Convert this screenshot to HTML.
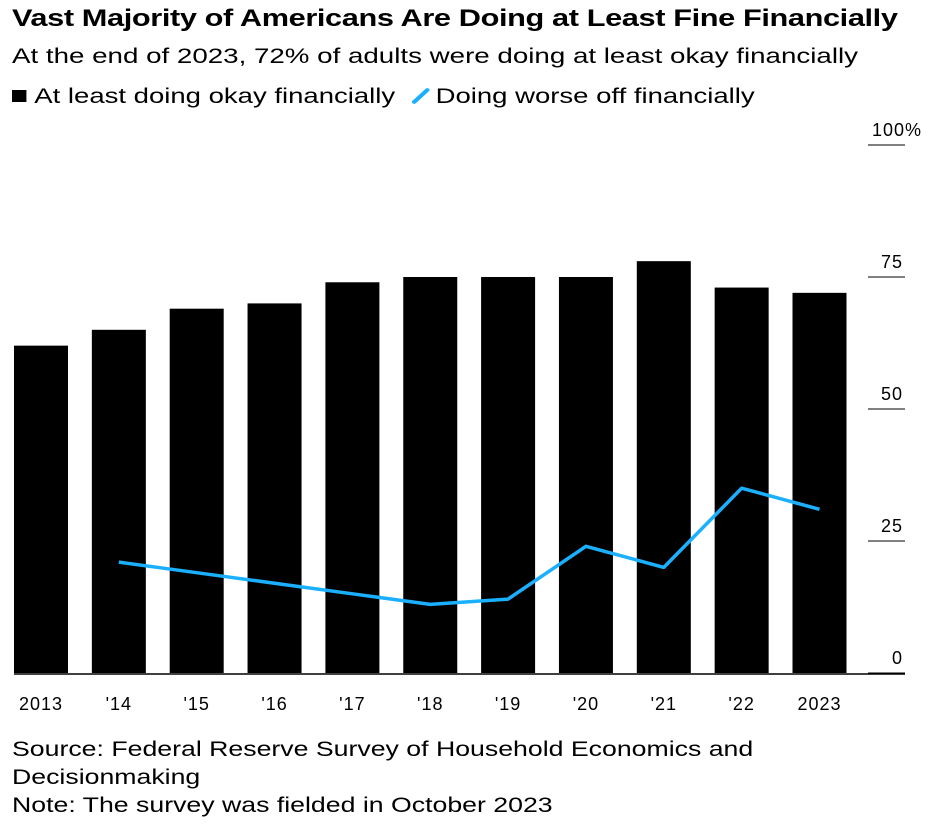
<!DOCTYPE html>
<html><head><meta charset="utf-8"><style>
body{margin:0;background:#fff;font-family:"Liberation Sans",sans-serif;color:#000}
#wrap{position:relative;width:929px;height:827px;overflow:hidden}
.t{position:absolute;white-space:nowrap;transform-origin:0 0}
</style></head><body>
<div id="wrap">
<div class="t" style="left:12px;top:5px;font-size:24px;font-weight:bold;letter-spacing:-0.3px;transform:scaleX(1.28)">Vast Majority of Americans Are Doing at Least Fine Financially</div>
<div class="t" style="left:12px;top:45px;font-size:21px;transform:scaleX(1.32)">At the end of 2023, 72% of adults were doing at least okay financially</div>
<div class="t" style="left:12px;top:85px;font-size:21px;transform:scaleX(1.31)">
<span><span style="display:inline-block;width:11px;height:12px;background:#000;margin-right:6px;vertical-align:1px"></span>At least doing okay financially</span>
<span style="margin-left:6px"><svg width="16" height="16" style="vertical-align:-1px;margin-right:3px"><line x1="3" y1="14" x2="13" y2="2" stroke="#1ab0ff" stroke-width="3.5" stroke-linecap="round"/></svg>Doing worse off financially</span>
</div>
<svg id="chart" width="929" height="827" style="position:absolute;left:0;top:0"></svg>
<div class="t" style="left:12px;top:736px;font-size:21px;line-height:28px;transform:scaleX(1.27)">Source: Federal Reserve Survey of Household Economics and<br>Decisionmaking<br>Note: The survey was fielded in October 2023</div>
</div>
<script>
const categories=["2013","'14","'15","'16","'17","'18","'19","'20","'21","'22","2023"];
const okayValues=[62,65,69,70,74,75,75,75,78,73,72];
const worseValues=[null,21,19,17,15,13,14,24,20,35,31];
const yTicks=[0,25,50,75,100];
const yTickLabels=["0","25","50","75","100%"];
const svg=document.getElementById('chart');
const NS='http://www.w3.org/2000/svg';
const y0=673,pxPer=5.28,x0=41,step=77.85,bw=54;
const yS=v=>y0-v*pxPer;
const xS=i=>x0+i*step;
function mk(tag,attrs){const e=document.createElementNS(NS,tag);for(const k in attrs)e.setAttribute(k,attrs[k]);svg.appendChild(e);return e;}
yTicks.forEach((v,i)=>{
 const l=mk('line',{x1:868,x2:905,y1:yS(v),y2:yS(v),stroke:'#000','stroke-width':1});
 
 
 const t=mk('text',{x:v===100?922:903,y:yS(v)-9,'text-anchor':'end','font-size':18,'font-family':'Liberation Sans, sans-serif','letter-spacing':'1'});
 t.textContent=yTickLabels[i];
 
 
});
okayValues.forEach((v,i)=>{
 const r=mk('rect',{x:xS(i)-bw/2,y:yS(v),width:bw,height:v*pxPer,fill:'#000'});
 
 
});
const ax=mk('line',{x1:14,x2:905,y1:y0+1,y2:y0+1,stroke:'#000','stroke-width':1.5});


categories.forEach((c,i)=>{
 const t=mk('text',{x:xS(i),y:710,'text-anchor':'middle','font-size':18,'font-family':'Liberation Sans, sans-serif','letter-spacing':'1'});
 t.textContent=c;
 
 
});
let pts=[];worseValues.forEach((v,i)=>{if(v!==null)pts.push(xS(i)+','+yS(v));});
const pl=mk('polyline',{points:pts.join(' '),fill:'none',stroke:'#1ab0ff','stroke-width':3.5,'stroke-linejoin':'round'});


</script>
</body></html>
